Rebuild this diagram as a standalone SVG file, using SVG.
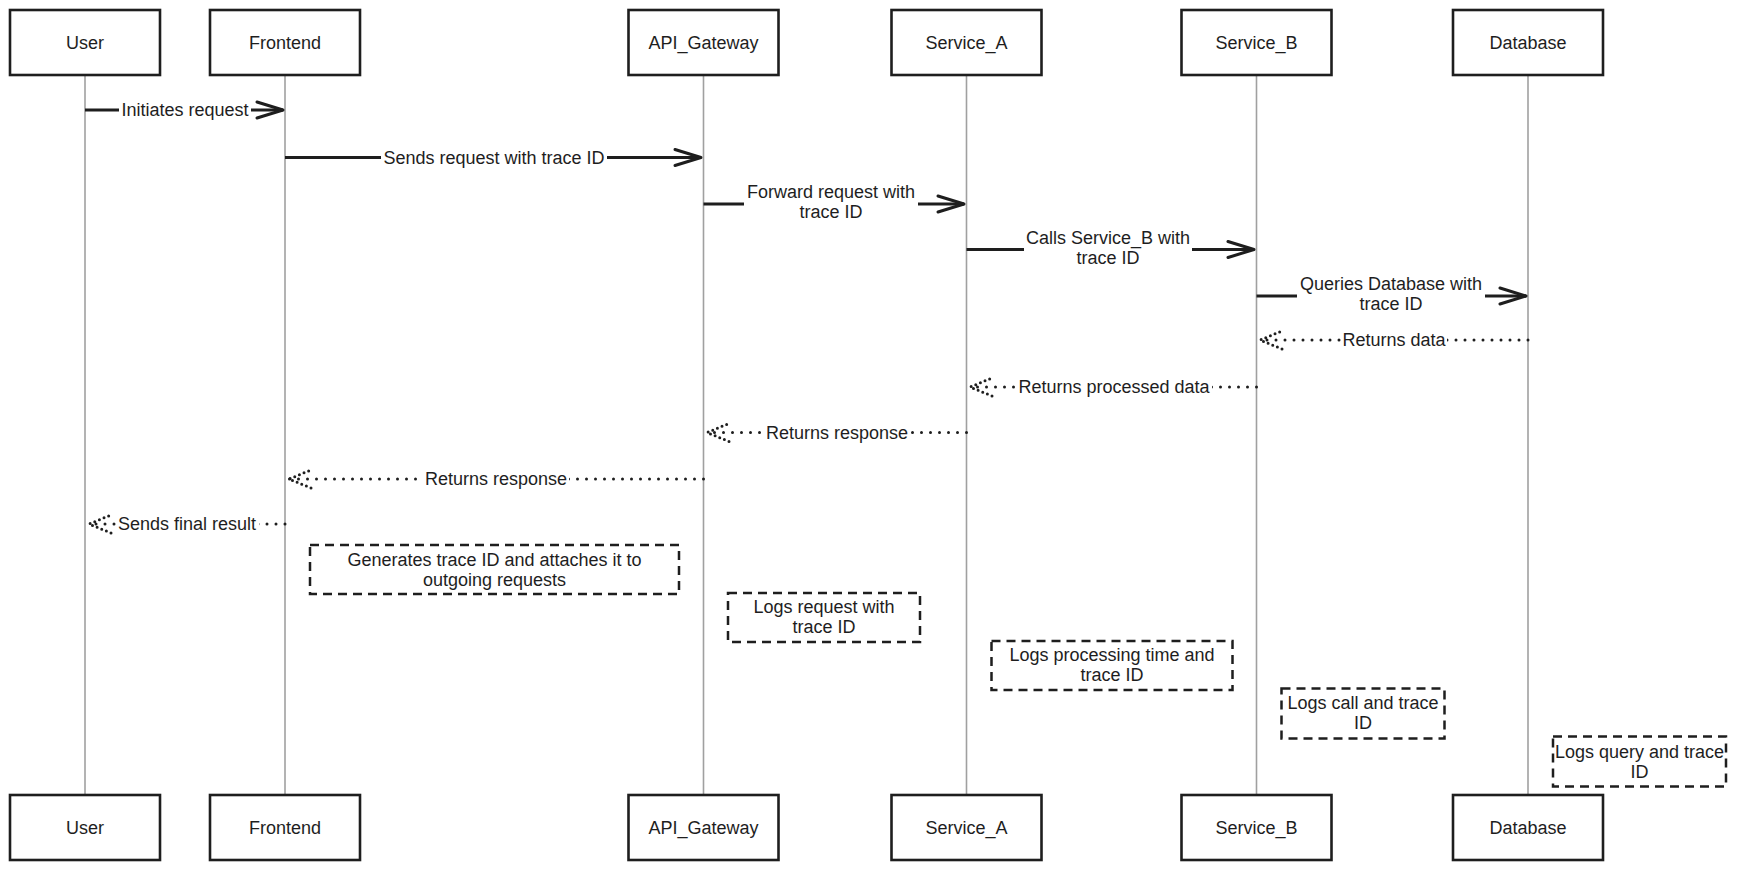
<svg xmlns="http://www.w3.org/2000/svg" width="1738" height="870" viewBox="0 0 1738 870">
<defs>
<style>
.actor rect{fill:#fff;stroke:#1e1e1e;stroke-width:2.6}
.actor text,.lbl,.note text{font-family:"Liberation Sans",Arial,sans-serif;font-size:18px;fill:#1e1e1e;text-anchor:middle;dominant-baseline:central}
.life{stroke:#a0a0a0;stroke-width:1.6}
.msg{stroke:#1e1e1e;stroke-width:3;fill:none}
.ret{stroke:#1e1e1e;stroke-width:3;fill:none;stroke-dasharray:0 9;stroke-linecap:round}
.bg{fill:#fff}
.note rect{fill:#fff;stroke:#1e1e1e;stroke-width:2.5;stroke-dasharray:9 6}
</style>
<marker id="ah" markerUnits="userSpaceOnUse" viewBox="-30 -12 32 24" refX="0" refY="0" markerWidth="32" markerHeight="24" orient="auto">
<path d="M-26,-8 L0,0 L-26,8" fill="none" stroke="#1e1e1e" stroke-width="3" stroke-linecap="round" stroke-linejoin="round"/>
</marker>
<marker id="ahd" markerUnits="userSpaceOnUse" viewBox="-26 -12 28 24" refX="0" refY="0" markerWidth="28" markerHeight="24" orient="auto">
<path d="M-22,-9 L0,0 L-22,9" fill="none" stroke="#1e1e1e" stroke-width="3" stroke-linecap="round" stroke-dasharray="0 5"/>
</marker>
</defs>
<rect width="1738" height="870" fill="#fff"/>
<g id="lifelines">
<line class="life" x1="85" y1="75" x2="85" y2="795"/>
<line class="life" x1="285" y1="75" x2="285" y2="795"/>
<line class="life" x1="703.5" y1="75" x2="703.5" y2="795"/>
<line class="life" x1="966.5" y1="75" x2="966.5" y2="795"/>
<line class="life" x1="1256.5" y1="75" x2="1256.5" y2="795"/>
<line class="life" x1="1528" y1="75" x2="1528" y2="795"/>
</g>
<g id="User" class="actor">
<rect x="10" y="10" width="150" height="65"/><text x="85" y="42.5">User</text>
<rect x="10" y="795" width="150" height="65"/><text x="85" y="827.5">User</text>
</g>
<g id="Frontend" class="actor">
<rect x="210" y="10" width="150" height="65"/><text x="285" y="42.5">Frontend</text>
<rect x="210" y="795" width="150" height="65"/><text x="285" y="827.5">Frontend</text>
</g>
<g id="API_Gateway" class="actor">
<rect x="628.5" y="10" width="150" height="65"/><text x="703.5" y="42.5">API_Gateway</text>
<rect x="628.5" y="795" width="150" height="65"/><text x="703.5" y="827.5">API_Gateway</text>
</g>
<g id="Service_A" class="actor">
<rect x="891.5" y="10" width="150" height="65"/><text x="966.5" y="42.5">Service_A</text>
<rect x="891.5" y="795" width="150" height="65"/><text x="966.5" y="827.5">Service_A</text>
</g>
<g id="Service_B" class="actor">
<rect x="1181.5" y="10" width="150" height="65"/><text x="1256.5" y="42.5">Service_B</text>
<rect x="1181.5" y="795" width="150" height="65"/><text x="1256.5" y="827.5">Service_B</text>
</g>
<g id="Database" class="actor">
<rect x="1453" y="10" width="150" height="65"/><text x="1528" y="42.5">Database</text>
<rect x="1453" y="795" width="150" height="65"/><text x="1528" y="827.5">Database</text>
</g>
<g id="connectors">
<line class="msg" x1="85" y1="110" x2="283" y2="110" marker-end="url(#ah)"/>
<rect class="bg" x="119" y="100" width="132" height="20"/>
<text class="lbl" x="185" y="110">Initiates request</text>

<line class="msg" x1="285" y1="157.5" x2="701" y2="157.5" marker-end="url(#ah)"/>
<rect class="bg" x="381" y="147" width="226" height="21"/>
<text class="lbl" x="494" y="157.5">Sends request with trace ID</text>

<line class="msg" x1="703.5" y1="204" x2="964" y2="204" marker-end="url(#ah)"/>
<rect class="bg" x="744" y="181" width="174" height="41"/>
<text class="lbl" x="831" y="192">Forward request with</text>
<text class="lbl" x="831" y="212">trace ID</text>

<line class="msg" x1="966.5" y1="249.5" x2="1254" y2="249.5" marker-end="url(#ah)"/>
<rect class="bg" x="1024" y="227" width="168" height="41"/>
<text class="lbl" x="1108" y="237.5">Calls Service_B with</text>
<text class="lbl" x="1108" y="257.5">trace ID</text>

<line class="msg" x1="1256.5" y1="296" x2="1526" y2="296" marker-end="url(#ah)"/>
<rect class="bg" x="1297" y="273" width="188" height="41"/>
<text class="lbl" x="1391" y="284">Queries Database with</text>
<text class="lbl" x="1391" y="304">trace ID</text>

<line class="ret" x1="1528" y1="340" x2="1260" y2="340" marker-end="url(#ahd)"/>
<rect class="bg" x="1341" y="330" width="106" height="20"/>
<text class="lbl" x="1394" y="340">Returns data</text>

<line class="ret" x1="1256.5" y1="387" x2="970" y2="387" marker-end="url(#ahd)"/>
<rect class="bg" x="1016" y="377" width="196" height="20"/>
<text class="lbl" x="1114" y="387">Returns processed data</text>

<line class="ret" x1="966.5" y1="432.5" x2="707" y2="432.5" marker-end="url(#ahd)"/>
<rect class="bg" x="764" y="422" width="146" height="20"/>
<text class="lbl" x="837" y="432.5">Returns response</text>

<line class="ret" x1="703.5" y1="479" x2="289" y2="479" marker-end="url(#ahd)"/>
<rect class="bg" x="423" y="469" width="146" height="20"/>
<text class="lbl" x="496" y="479">Returns response</text>

<line class="ret" x1="285" y1="524" x2="89" y2="524" marker-end="url(#ahd)"/>
<rect class="bg" x="116" y="514" width="143" height="20"/>
<text class="lbl" x="187" y="524">Sends final result</text>
</g>
<g id="note_frontend" class="note">
<rect x="310" y="545" width="369" height="49"/>
<text x="494.5" y="559.5">Generates trace ID and attaches it to</text>
<text x="494.5" y="579.5">outgoing requests</text>
</g>
<g id="note_api" class="note">
<rect x="728" y="593" width="192" height="49"/>
<text x="824" y="607">Logs request with</text>
<text x="824" y="627">trace ID</text>
</g>
<g id="note_service_a" class="note">
<rect x="991.5" y="641" width="241" height="49"/>
<text x="1112" y="655">Logs processing time and</text>
<text x="1112" y="675">trace ID</text>
</g>
<g id="note_service_b" class="note">
<rect x="1281.5" y="688.5" width="163" height="50"/>
<text x="1363" y="703">Logs call and trace</text>
<text x="1363" y="723">ID</text>
</g>
<g id="note_database" class="note">
<rect x="1553" y="736.5" width="173" height="50"/>
<text x="1639.5" y="751.5">Logs query and trace</text>
<text x="1639.5" y="771.5">ID</text>
</g>
</svg>
